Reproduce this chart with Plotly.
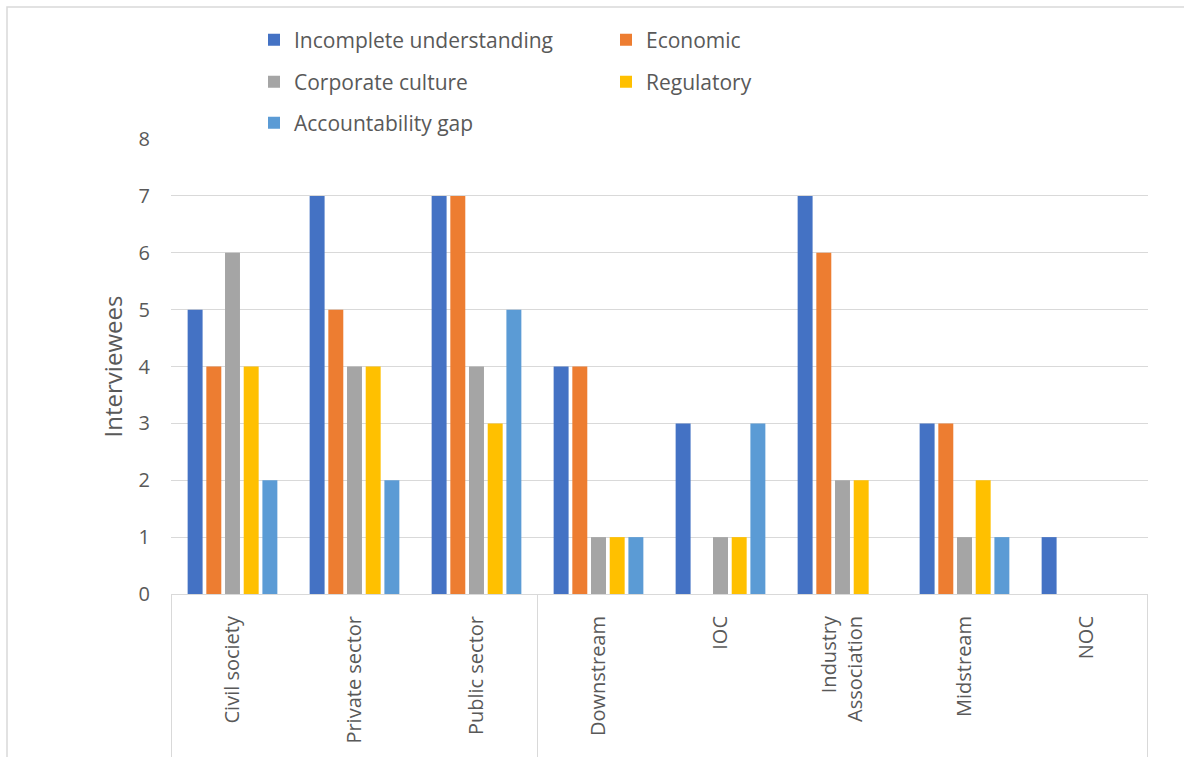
import plotly.graph_objects as go

categories = ["Civil society", "Private sector", "Public sector", "Downstream", "IOC",
              "Industry<br>Association", "Midstream", "NOC"]
series_names = ["Incomplete understanding", "Economic", "Corporate culture", "Regulatory", "Accountability gap"]
incomplete_understanding = [5, 7, 7, 4, 3, 7, 3, 1]
economic = [4, 5, 7, 4, 0, 6, 3, 0]
corporate_culture = [6, 4, 4, 1, 1, 2, 1, 0]
regulatory = [4, 4, 3, 1, 1, 2, 2, 0]
accountability_gap = [2, 2, 5, 1, 3, 0, 1, 0]
colors = ["#4472C4", "#ED7D31", "#A5A5A5", "#FFC000", "#5B9BD5"]
y_ticks = [0, 1, 2, 3, 4, 5, 6, 7, 8]

values = [incomplete_understanding, economic, corporate_culture, regulatory, accountability_gap]
legend_ids = ["legend", "legend", "legend2", "legend2", "legend3"]

FONT = "Open Sans"
TXT = "#595959"
GRID = "#D9D9D9"

fig = go.Figure()
for name, vals, col, lg in zip(series_names, values, colors, legend_ids):
    fig.add_trace(go.Bar(name=name, x=categories, y=vals, marker_color=col,
                         marker_line_width=0, legend=lg))

W, H = 1184, 757
L, R, T, B = 171, 36, 139, 163
pw, ph = W - L - R, H - T - B

def py(pix):
    return (H - B - pix) / ph

leg_common = dict(orientation="h", xanchor="left", yanchor="middle",
                  entrywidth=307, entrywidthmode="pixels",
                  font=dict(family=FONT, size=21, color=TXT),
                  bgcolor="rgba(0,0,0,0)")
lx = (254 - L) / pw

fig.update_layout(
    width=W, height=H,
    margin=dict(l=L, r=R, t=T, b=B, pad=0),
    paper_bgcolor="white", plot_bgcolor="white",
    font=dict(family=FONT, size=19, color=TXT),
    barmode="group", bargap=0.234, bargroupgap=0.2,
    legend=dict(x=lx, y=py(40), **leg_common),
    legend2=dict(x=lx, y=py(82), **leg_common),
    legend3=dict(x=lx, y=py(123), **leg_common),
    xaxis=dict(tickangle=-90, showline=True, linecolor=GRID, linewidth=1,
               showgrid=False, ticks="", ticklabelstandoff=13,
               tickfont=dict(family=FONT, size=20, color=TXT)),
    yaxis=dict(range=[0, 8], tickvals=y_ticks, showgrid=True, gridcolor=GRID,
               gridwidth=1, zeroline=False, showline=False, ticks="",
               ticklabelstandoff=20,
               tickfont=dict(family=FONT, size=20, color=TXT),
               title=dict(text="Interviewees", standoff=9,
                          font=dict(family=FONT, size=24, color=TXT))),
)

# category-axis box lines (multi-level style)
for xv in [-0.5, 2.5, len(categories) - 0.5]:
    fig.add_shape(type="line", xref="x", yref="paper", x0=xv, x1=xv, y0=0, y1=-0.5,
                  line=dict(color=GRID, width=1))

# chart area border
fig.add_shape(type="rect", xref="paper", yref="paper",
              x0=(7 - L) / pw, x1=1.2, y0=py(7), y1=-0.6,
              line=dict(color=GRID, width=1.5), fillcolor="rgba(0,0,0,0)", layer="below")

fig.write_html("out.html")
